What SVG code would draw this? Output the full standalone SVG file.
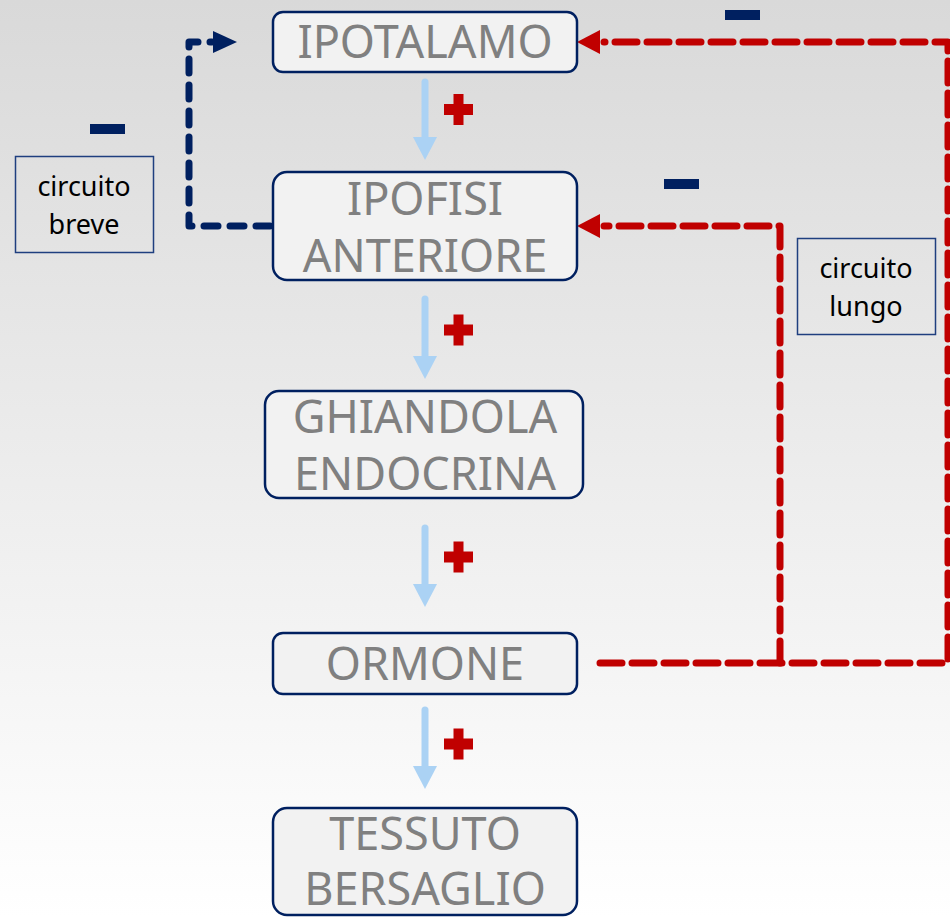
<svg xmlns="http://www.w3.org/2000/svg" width="950" height="917" viewBox="0 0 950 917">
<defs>
<linearGradient id="bg" x1="0" y1="0" x2="0" y2="1">
<stop offset="0" stop-color="#d9d9d9"/>
<stop offset="1" stop-color="#ffffff"/>
</linearGradient>
<path id="plusShape" d="M-5,-15.5 h10 v10 h9.5 v11 h-9.5 v10 h-10 v-10 h-9.5 v-11 h9.5 z"/>
</defs>
<style>
.node rect{fill:#f2f2f2;stroke:#002060;stroke-width:2.5}
.node text{font-family:"Noto Sans","Open Sans",sans-serif;font-size:45px;fill:#808080;text-anchor:middle}
.label rect{fill:none;stroke:#1f3f7f;stroke-width:1.5}
.label text{font-family:"Noto Sans","Open Sans",sans-serif;font-size:27px;fill:#000;text-anchor:middle}
.red{fill:none;stroke:#c00000;stroke-width:7;stroke-dasharray:22 10;stroke-linecap:round;stroke-linejoin:round}
.navy{fill:none;stroke:#002060;stroke-width:7;stroke-dasharray:14 12;stroke-linecap:round;stroke-linejoin:round}
.blue{fill:none;stroke:#abd2f4;stroke-width:7;stroke-linecap:round}
.bluehead{fill:#abd2f4}
.redhead{fill:#c00000}
.navyhead{fill:#002060}
.plus{fill:#c00000}
.minus{fill:#002060}
</style>
<rect x="0" y="0" width="950" height="917" fill="url(#bg)"/>

<g id="connectors">
<path class="blue" d="M425,82 V138"/>
<polygon class="bluehead" points="413,137 437,137 425,160"/>
<path class="blue" d="M425,299 V357"/>
<polygon class="bluehead" points="413,356 437,356 425,379"/>
<path class="blue" d="M425,528 V585"/>
<polygon class="bluehead" points="413,584 437,584 425,607"/>
<path class="blue" d="M425,710 V767"/>
<polygon class="bluehead" points="413,766 437,766 425,789"/>
<path class="navy" d="M270,226 H189 V42 H212"/>
<polygon class="navyhead" points="213,31 237,42 213,53"/>
<path class="red" d="M600,663 H948 V42 H604"/>
<polygon class="redhead" points="600,30 577,42 600,54"/>
<path class="red" d="M780,663 V226 H604"/>
<polygon class="redhead" points="600,214 577,226 600,238"/>
</g>

<g id="signs">
<use href="#plusShape" class="plus" x="458.5" y="109.5"/>
<use href="#plusShape" class="plus" x="458.5" y="330"/>
<use href="#plusShape" class="plus" x="458.5" y="557"/>
<use href="#plusShape" class="plus" x="458.5" y="744"/>
<rect class="minus" x="90" y="124" width="35" height="10"/>
<rect class="minus" x="725" y="10" width="35" height="10"/>
<rect class="minus" x="664" y="179" width="35" height="10"/>
</g>

<g id="ipotalamo" class="node">
<rect x="273" y="12" width="304" height="60" rx="10"/>
<text x="425" y="58">IPOTALAMO</text>
</g>
<g id="ipofisi" class="node">
<rect x="273" y="172" width="304" height="108" rx="14"/>
<text x="425" y="215">IPOFISI</text>
<text x="425" y="272">ANTERIORE</text>
</g>
<g id="ghiandola" class="node">
<rect x="265" y="391" width="318" height="107" rx="14"/>
<text x="425" y="433">GHIANDOLA</text>
<text x="425" y="490">ENDOCRINA</text>
</g>
<g id="ormone" class="node">
<rect x="273" y="633" width="304" height="61" rx="10"/>
<text x="425" y="680">ORMONE</text>
</g>
<g id="tessuto" class="node">
<rect x="273" y="808" width="304" height="107" rx="14"/>
<text x="425" y="850">TESSUTO</text>
<text x="425" y="905">BERSAGLIO</text>
</g>

<g id="circuito-breve" class="label">
<rect x="15.5" y="156.5" width="138" height="96"/>
<text x="84" y="196">circuito</text>
<text x="84" y="234">breve</text>
</g>
<g id="circuito-lungo" class="label">
<rect x="797.5" y="238.5" width="138" height="96"/>
<text x="866" y="278">circuito</text>
<text x="866" y="316">lungo</text>
</g>
</svg>
